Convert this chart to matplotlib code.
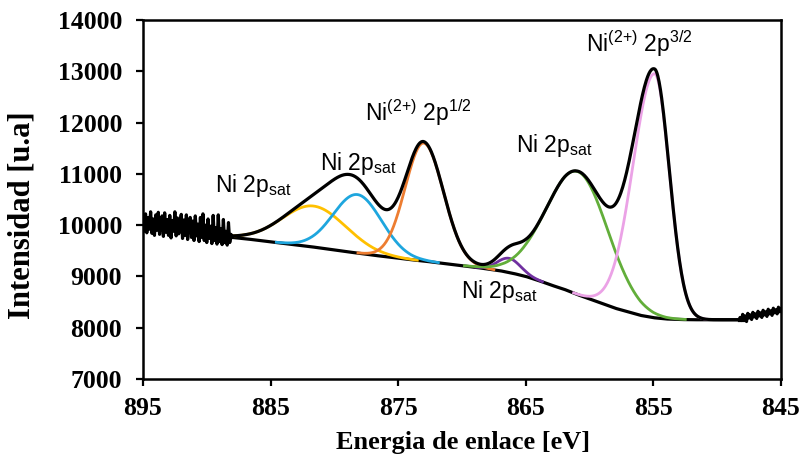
import numpy as np
import matplotlib
matplotlib.use("Agg")
import matplotlib.pyplot as plt

# ---------------- data ----------------
# Background (eV -> intensity), 1 eV steps from 888 to 848
bg_ev = [888, 887, 886, 885, 884, 883, 882, 881, 880, 879, 878, 877, 876, 875,
         874, 873, 872, 871, 870, 869, 868, 867, 866, 865, 864, 863, 862, 861,
         860, 859, 858, 857, 856, 855, 854, 853, 852, 851, 850, 849, 848]
bg_val = [9760, 9735, 9705, 9675, 9645, 9615, 9585, 9550, 9515, 9480, 9450, 9415,
          9385, 9355, 9325, 9300, 9270, 9240, 9210, 9180, 9145, 9110, 9060, 9000,
          8920, 8830, 8750, 8650, 8560, 8470, 8380, 8310, 8240, 8195, 8170, 8160,
          8155, 8155, 8155, 8155, 8155]

# Fitted components: centre (eV), height above background, sigma on the
# high-energy side and on the low-energy side (eV)
comp_center = [881.6, 878.2, 873.0, 866.3, 860.9, 854.9]
comp_height = [800, 1140, 2300, 277, 2400, 4760]
comp_sig_hi = [2.5, 1.9, 1.45, 0.9, 2.5, 1.7]
comp_sig_lo = [2.5, 1.9, 1.55, 0.9, 2.35, 1.15]
comp_color = ["#FFC000", "#1EA6DE", "#ED7D31", "#7030A0", "#62AE3A", "#EBA2E6"]

# Raw spectrum outside the fit window (0.1 eV steps)
left_ev_start, left_ev_end = 895.0, 888.0
left_counts = [10080, 9880, 10220, 9850, 10150, 9920, 10260, 9840, 10120, 9800,
               10200, 9900, 10250, 9820, 10060, 10180, 9780, 10240, 9860, 10110,
               9800, 10190, 9750, 10090, 9880, 10260, 9790, 10140, 9830, 10050,
               10210, 9740, 10100, 9800, 10200, 9720, 10060, 10150, 9760, 10080,
               9700, 10180, 9790, 10020, 9680, 10150, 9760, 10220, 9700, 10000,
               9660, 10120, 9740, 9980, 9640, 10190, 9700, 9950, 9630, 10200,
               9680, 9930, 9620, 10110, 9660, 9880, 9610, 10050, 9660, 9820, 9760]
right_ev_start, right_ev_end = 848.3, 845.0
right_counts = [8155, 8200, 8140, 8260, 8170, 8230, 8120, 8280, 8190, 8250,
                8160, 8300, 8210, 8270, 8180, 8320, 8230, 8290, 8200, 8340,
                8250, 8310, 8220, 8360, 8270, 8330, 8240, 8380, 8290, 8350,
                8270, 8400, 8310, 8370]

x_ticks = [895, 885, 875, 865, 855, 845]
y_ticks = [7000, 8000, 9000, 10000, 11000, 12000, 13000, 14000]

labels = [
    (r"Ni 2p$_\mathregular{sat}$", 889.35, 10645),
    (r"Ni 2p$_\mathregular{sat}$", 881.1, 11074),
    (r"Ni$^\mathregular{(2{+})}$ 2p$^\mathregular{1/2}$", 877.6, 12029),
    (r"Ni 2p$_\mathregular{sat}$", 865.8, 11425),
    (r"Ni 2p$_\mathregular{sat}$", 870.1, 8579),
    (r"Ni$^\mathregular{(2{+})}$ 2p$^\mathregular{3/2}$", 860.3, 13374),
]

# ---------------- drawing ----------------
plt.rcParams["mathtext.fontset"] = "custom"
plt.rcParams["mathtext.rm"] = "Liberation Sans"

fig = plt.figure(figsize=(8.01, 4.65), dpi=100)
ax = fig.add_axes([0.1785, 0.185, 0.7965, 0.772])

grid = np.linspace(bg_ev[0], bg_ev[-1], 801)
bg = np.interp(grid, bg_ev[::-1], bg_val[::-1])

total = bg.copy()
for c, h, sh, sl, col in zip(comp_center, comp_height, comp_sig_hi, comp_sig_lo, comp_color):
    sig = np.where(grid >= c, sh, sl)
    peak = h * np.exp(-0.5 * ((grid - c) / sig) ** 2)
    total += peak
    m = peak > 4
    ax.plot(grid[m], (bg + peak)[m], color=col, lw=2.0, zorder=3)

left_ev = np.linspace(left_ev_start, left_ev_end, len(left_counts))
right_ev = np.linspace(right_ev_start, right_ev_end, len(right_counts))

ax.plot(grid, bg, color="black", lw=2.3, zorder=2)
ax.plot(grid, total, color="black", lw=2.3, zorder=4)
ax.plot(left_ev, left_counts, color="black", lw=2.3, zorder=4)
ax.plot(right_ev, right_counts, color="black", lw=2.3, zorder=4)
ax.plot([grid[-1], right_ev[0]], [total[-1], right_counts[0]], color="black", lw=2.3, zorder=4)

for txt, x, y in labels:
    ax.text(x, y, txt, fontsize=16.5, family="Liberation Sans", ha="left", va="baseline")

ax.set_xlim(895, 845)
ax.set_ylim(7000, 14000)
ax.set_xticks(x_ticks)
ax.set_yticks(y_ticks)
for lab in ax.get_xticklabels() + ax.get_yticklabels():
    lab.set_fontfamily("Liberation Serif")
    lab.set_fontweight("bold")
    lab.set_fontsize(18.5)
ax.tick_params(direction="out", length=5, width=1.6)
ax.tick_params(axis="x", pad=8)
ax.tick_params(axis="y", pad=10)
for s in ax.spines.values():
    s.set_linewidth(1.8)

ax.set_xlabel("Energia de enlace [eV]", fontsize=19, fontweight="bold",
              family="Liberation Serif")
ax.xaxis.set_label_coords(0.501, -0.145)
ax.set_ylabel("Intensidad [u.a]", fontsize=22, fontweight="bold",
              family="Liberation Serif", va="center")
ax.yaxis.set_label_coords(-0.19, 0.455)

fig.savefig("out.png", dpi=100)
